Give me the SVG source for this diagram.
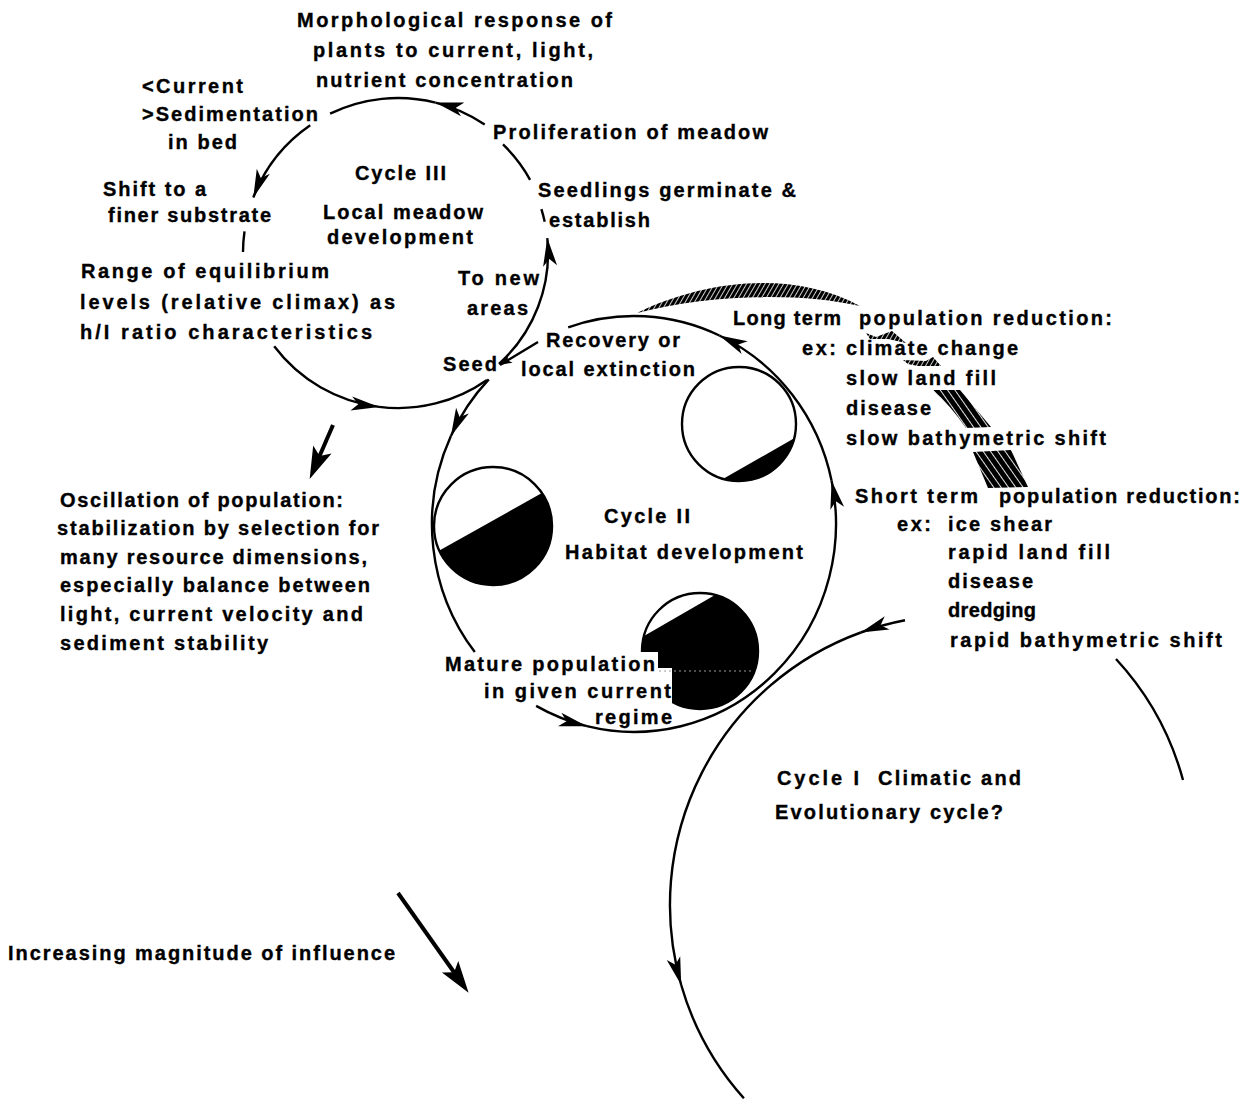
<svg xmlns="http://www.w3.org/2000/svg" width="1258" height="1099" viewBox="0 0 1258 1099">
  <style>
    .t { font-family: "Liberation Sans", Arial, Helvetica, sans-serif; font-weight: bold; font-size: 20px; fill: #000; stroke: #000; stroke-width: 0.35; }
    .arc { fill: none; stroke: #000; stroke-width: 2.4; }
    .ring { fill: #fff; stroke: #000; stroke-width: 2.4; }
    .solid { fill: #000; stroke: none; }
    .bold { fill: none; stroke: #000; stroke-width: 4; }
  </style>
  <defs>
    <marker id="ah" viewBox="-29 -8 30 16" refX="0" refY="0" markerWidth="30" markerHeight="16" orient="auto" markerUnits="userSpaceOnUse">
      <path d="M0,0 L-28,-7 L-21,0 L-28,7 Z" fill="#000"/>
    </marker>
    <marker id="ahs" viewBox="-13 -6 14 12" refX="0" refY="0" markerWidth="14" markerHeight="12" orient="auto" markerUnits="userSpaceOnUse">
      <path d="M0,0 L-12,-4.5 L-9,0 L-12,4.5 Z" fill="#000"/>
    </marker>
    <marker id="ahb" viewBox="-33 -11 34 22" refX="-23" refY="0" markerWidth="34" markerHeight="22" orient="auto" markerUnits="userSpaceOnUse">
      <path d="M0,0 L-32,-10 L-25,0 L-32,10 Z" fill="#000"/>
    </marker>
    <pattern id="hatchA" width="4" height="4" patternUnits="userSpaceOnUse" patternTransform="rotate(30)">
      <rect width="4" height="4" fill="#000"/>
      <rect x="0" y="0" width="0.8" height="4" fill="#fff"/>
    </pattern>
    <pattern id="hatchB" width="6" height="6" patternUnits="userSpaceOnUse" patternTransform="rotate(-35)">
      <rect width="6" height="6" fill="#000"/>
      <rect x="0" y="0" width="0.9" height="6" fill="#fff"/>
    </pattern>
  </defs>

  <rect width="1258" height="1099" fill="#fff"/>

  <!-- habitat states inside Cycle II -->
  <g id="state-sparse">
    <circle class="ring" cx="739" cy="424" r="57"/>
    <path class="solid" d="M723.3,478.8 L794.2,438.3 A57,57 0 0 1 723.3,478.8 Z"/>
  </g>
  <g id="state-half">
    <circle class="ring" cx="493" cy="526" r="59"/>
    <path class="solid" d="M439.4,550.6 L541.9,493 A59,59 0 1 1 439.4,550.6 Z"/>
  </g>
  <g id="state-dense">
    <circle class="ring" cx="700" cy="651" r="58"/>
    <path class="solid" d="M644,636 L715,595 A58,58 0 1 1 644,636 Z"/>
    <rect x="628" y="652" width="30" height="16" fill="#fff"/>
    <rect x="628" y="668" width="44" height="45" fill="#fff"/>
    <line x1="659" y1="671" x2="752" y2="671" stroke="#9a9a9a" stroke-width="1" stroke-dasharray="2 3"/>
  </g>

  <!-- connectors -->
  <g id="connectors">
    <!-- Cycle III: local meadow development -->
    <path class="arc" d="M484.7,124.5 A155,155 0 0 0 435.5,102.6" marker-end="url(#ah)"/>
    <path class="arc" d="M435.5,102.6 A155,155 0 0 0 330.1,113.7"/>
    <path class="arc" d="M310.2,125.3 A155,155 0 0 0 253.3,197.5" marker-end="url(#ah)"/>
    <path class="arc" d="M244.5,231.4 A155,155 0 0 0 243,252"/>
    <path class="arc" d="M274.2,346.3 A155,155 0 0 0 379.1,406.9" marker-end="url(#ah)"/>
    <path class="arc" d="M379.1,406.9 A155,155 0 0 0 487,380"/>
    <path class="arc" d="M499,364 A150,150 0 0 0 547.3,238.1" marker-end="url(#ah)"/>
    <path class="arc" d="M541.4,209.2 A150,150 0 0 1 544.7,221.8"/>
    <path class="arc" d="M503,144.4 A151,151 0 0 1 530.1,179.8"/>
    <!-- recovery feeds seed -->
    <path class="arc" d="M538,342 L500,365" marker-end="url(#ahs)"/>

    <!-- Cycle II: habitat development -->
    <path class="arc" d="M488.8,379.4 A202,208 0 0 0 450.9,436.1" marker-end="url(#ah)"/>
    <path class="arc" d="M450.9,436.1 A202,208 0 0 0 474.8,652.1"/>
    <path class="arc" d="M536.1,705.9 A202,208 0 0 0 586.9,726.2" marker-end="url(#ah)"/>
    <path class="arc" d="M586.9,726.2 A202,208 0 0 0 831.6,480.8" marker-end="url(#ah)"/>
    <path class="arc" d="M831.6,480.8 A202,208 0 0 0 719.4,335.5" marker-end="url(#ah)"/>
    <path class="arc" d="M719.4,335.5 A202,208 0 0 0 568.2,327.3"/>

    <!-- Cycle I: climatic and evolutionary -->
    <path class="arc" d="M905,620.3 A290,290 0 0 0 860.8,632.5" marker-end="url(#ah)"/>
    <path class="arc" d="M860.8,632.5 A290,290 0 0 0 681.2,985" marker-end="url(#ah)"/>
    <path class="arc" d="M681.2,985 A290,290 0 0 0 743.9,1098.3"/>
    <path class="arc" d="M1116,659 A290,290 0 0 1 1183,780"/>

    <!-- long term reduction band (hatched) -->
    <path d="M637,313 C700,282 790,268 860,306 C800,292 710,294 637,313 Z" fill="url(#hatchA)"/>
    <polygon points="866,333 876,337 892,331 906,343 888,339 870,339" fill="url(#hatchA)"/>
    <polygon points="903,360 926,361 933,357 941,366 918,366 908,364" fill="url(#hatchA)"/>
    <path d="M933,390 L960,390 L991,427 L966,428 Q950,405 933,390 Z" fill="url(#hatchB)"/>
    <path d="M973,452 L1011,450 L1028,487 L988,488 Z" fill="url(#hatchB)"/>

    <!-- oscillation and magnitude arrows -->
    <path class="bold" d="M333,425 L318.8,457.8" marker-end="url(#ahb)"/>
    <path class="bold" d="M398,893 L455.3,974" marker-end="url(#ahb)"/>
  </g>

  <!-- labels -->
  <g id="morphological-response">
    <text class="t" x="297" y="27" textLength="315" lengthAdjust="spacing">Morphological response of</text>
    <text class="t" x="313" y="57" textLength="280" lengthAdjust="spacing">plants to current, light,</text>
    <text class="t" x="316" y="87" textLength="257" lengthAdjust="spacing">nutrient concentration</text>
  </g>
  <g id="current-sedimentation">
    <text class="t" x="142" y="93" textLength="101" lengthAdjust="spacing">&lt;Current</text>
    <text class="t" x="142" y="121" textLength="176" lengthAdjust="spacing">&gt;Sedimentation</text>
    <text class="t" x="168" y="149" textLength="69" lengthAdjust="spacing">in bed</text>
  </g>
  <g id="finer-substrate">
    <text class="t" x="103" y="196" textLength="103" lengthAdjust="spacing">Shift to a</text>
    <text class="t" x="108" y="222" textLength="163" lengthAdjust="spacing">finer substrate</text>
  </g>
  <g id="cycle-3">
    <text class="t" x="355" y="180" textLength="91" lengthAdjust="spacing">Cycle III</text>
    <text class="t" x="323" y="219" textLength="160" lengthAdjust="spacing">Local meadow</text>
    <text class="t" x="327" y="244" textLength="146" lengthAdjust="spacing">development</text>
  </g>
  <g id="equilibrium">
    <text class="t" x="81" y="278" textLength="248" lengthAdjust="spacing">Range of equilibrium</text>
    <text class="t" x="80" y="309" textLength="315" lengthAdjust="spacing">levels (relative climax) as</text>
    <text class="t" x="80" y="339" textLength="292" lengthAdjust="spacing">h/I ratio characteristics</text>
  </g>
  <g id="proliferation">
    <text class="t" x="493" y="139" textLength="275" lengthAdjust="spacing">Proliferation of meadow</text>
  </g>
  <g id="seedlings">
    <text class="t" x="538" y="197" textLength="258" lengthAdjust="spacing">Seedlings germinate &amp;</text>
    <text class="t" x="549" y="227" textLength="101" lengthAdjust="spacing">establish</text>
  </g>
  <g id="new-areas">
    <text class="t" x="458" y="285" textLength="81" lengthAdjust="spacing">To new</text>
    <text class="t" x="467" y="315" textLength="61" lengthAdjust="spacing">areas</text>
  </g>
  <g id="seed">
    <text class="t" x="443" y="371" textLength="54" lengthAdjust="spacing">Seed</text>
  </g>
  <g id="recovery">
    <text class="t" x="546" y="347" textLength="134" lengthAdjust="spacing">Recovery or</text>
    <text class="t" x="521" y="376" textLength="174" lengthAdjust="spacing">local extinction</text>
  </g>
  <g id="long-term">
    <text class="t" x="733" y="325" textLength="108" lengthAdjust="spacing">Long term</text>
    <text class="t" x="859" y="325" textLength="253" lengthAdjust="spacing">population reduction:</text>
    <text class="t" x="802" y="355" textLength="34" lengthAdjust="spacing">ex:</text>
    <text class="t" x="846" y="355" textLength="172" lengthAdjust="spacing">climate change</text>
    <text class="t" x="846" y="385" textLength="150" lengthAdjust="spacing">slow land fill</text>
    <text class="t" x="846" y="415" textLength="85" lengthAdjust="spacing">disease</text>
    <text class="t" x="846" y="445" textLength="260" lengthAdjust="spacing">slow bathymetric shift</text>
  </g>
  <g id="short-term">
    <text class="t" x="855" y="503" textLength="123" lengthAdjust="spacing">Short term</text>
    <text class="t" x="999" y="503" textLength="241" lengthAdjust="spacing">population reduction:</text>
    <text class="t" x="897" y="531" textLength="34" lengthAdjust="spacing">ex:</text>
    <text class="t" x="948" y="531" textLength="104" lengthAdjust="spacing">ice shear</text>
    <text class="t" x="948" y="559" textLength="162" lengthAdjust="spacing">rapid land fill</text>
    <text class="t" x="948" y="588" textLength="85" lengthAdjust="spacing">disease</text>
    <text class="t" x="948" y="617" textLength="88" lengthAdjust="spacing">dredging</text>
    <text class="t" x="950" y="647" textLength="272" lengthAdjust="spacing">rapid bathymetric shift</text>
  </g>
  <g id="cycle-2">
    <text class="t" x="604" y="523" textLength="86" lengthAdjust="spacing">Cycle II</text>
    <text class="t" x="565" y="559" textLength="238" lengthAdjust="spacing">Habitat development</text>
  </g>
  <g id="mature-population">
    <text class="t" x="445" y="671" textLength="210" lengthAdjust="spacing">Mature population</text>
    <text class="t" x="484" y="698" textLength="187" lengthAdjust="spacing">in given current</text>
    <text class="t" x="595" y="724" textLength="77" lengthAdjust="spacing">regime</text>
  </g>
  <g id="oscillation">
    <text class="t" x="60" y="507" textLength="283" lengthAdjust="spacing">Oscillation of population:</text>
    <text class="t" x="57" y="535" textLength="322" lengthAdjust="spacing">stabilization by selection for</text>
    <text class="t" x="60" y="564" textLength="307" lengthAdjust="spacing">many resource dimensions,</text>
    <text class="t" x="60" y="592" textLength="310" lengthAdjust="spacing">especially balance between</text>
    <text class="t" x="60" y="621" textLength="303" lengthAdjust="spacing">light, current velocity and</text>
    <text class="t" x="60" y="650" textLength="208" lengthAdjust="spacing">sediment stability</text>
  </g>
  <g id="cycle-1">
    <text class="t" x="777" y="785" textLength="82" lengthAdjust="spacing">Cycle I</text>
    <text class="t" x="878" y="785" textLength="143" lengthAdjust="spacing">Climatic and</text>
    <text class="t" x="775" y="819" textLength="228" lengthAdjust="spacing">Evolutionary cycle?</text>
  </g>
  <g id="magnitude">
    <text class="t" x="8" y="960" textLength="387" lengthAdjust="spacing">Increasing magnitude of influence</text>
  </g>
</svg>
